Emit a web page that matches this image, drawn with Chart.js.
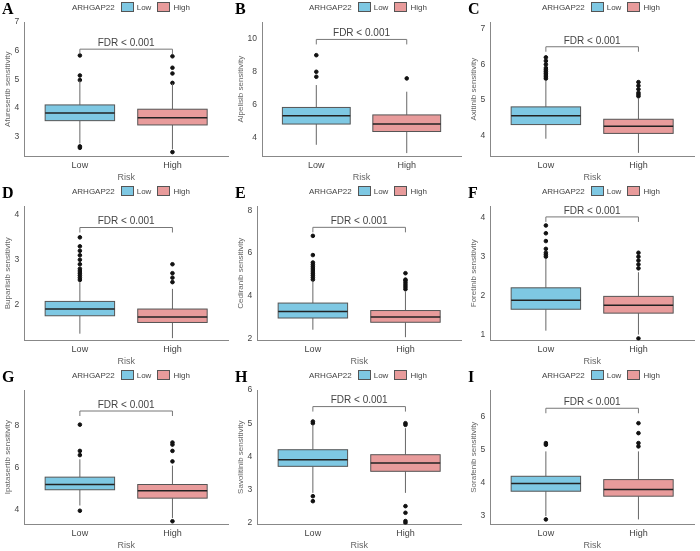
<!DOCTYPE html><html><head><meta charset="utf-8">
<script src="https://cdn.jsdelivr.net/npm/chart.js@4"></script>
<style>
body{margin:0;background:#fff;font-family:"Liberation Sans",Arial,sans-serif}
#wrap{position:relative;width:700px;height:551px}
.p{position:absolute;width:233px;height:183px}
.p canvas{position:absolute;left:0;top:0}
.lt{position:absolute;left:2px;top:0;font:bold 16px "Liberation Serif",serif}
.lg{position:absolute;top:2px;font-size:8px;color:#444;display:flex;align-items:center;gap:3px}
.sw{display:inline-block;width:11px;height:8px;border:1px solid #555;margin-left:3px}
</style></head><body><div id="wrap"></div>
<script>
const letters=["A","B","C","D","E","F","G","H","I"];
const drugs=["Afuresertib","Alpelisib","Axitinib","Buparlisib","Cediranib","Foretinib","Ipatasertib","Savolitinib","Sorafenib"];
const categories=["Low","High"];
// [whiskerLow, q1, median, q3, whiskerHigh]
const lowStats=[[2.75,3.55,3.82,4.1,4.95],[3.6,4.85,5.35,5.85,7.2],[3.9,4.3,4.55,4.8,5.55],[1.35,1.75,1.9,2.07,2.5],[2.4,2.95,3.25,3.65,4.7],[1.1,1.65,1.88,2.2,2.95],[4.2,4.95,5.2,5.55,6.4],[2.9,3.7,3.9,4.2,4.95],[3.0,3.75,3.98,4.2,4.95]];
const highStats=[[2.55,3.4,3.65,3.95,4.85],[3.1,4.4,4.85,5.4,6.8],[3.5,4.05,4.25,4.45,5.05],[1.25,1.6,1.72,1.9,2.35],[2.05,2.75,3.0,3.3,4.2],[1.0,1.55,1.75,1.98,2.6],[3.6,4.55,4.9,5.2,6.1],[2.9,3.55,3.8,4.05,4.85],[2.9,3.6,3.8,4.1,4.95]];
const lowOut=[[5.13,5.83,2.6,2.65,4.97],[7.7,8.0,9.0],[5.6,5.65,5.7,5.75,5.8,5.85,5.9,6.0,6.1,6.2],[2.55,2.6,2.65,2.7,2.75,2.8,2.9,3.0,3.1,3.2,3.3,3.5],[4.75,4.85,4.95,5.05,5.15,5.25,5.35,5.45,5.55,5.9,6.8],[3.0,3.05,3.1,3.2,3.4,3.6,3.8],[6.6,6.8,8.05,3.95],[5.0,5.05,2.8,2.65],[5.15,5.2,2.9]];
const highOut=[[4.87,5.2,5.4,5.8,2.45],[7.6],[5.1,5.15,5.2,5.3,5.4,5.5],[2.5,2.6,2.7,2.9],[4.3,4.4,4.5,4.6,4.7,4.75,5.05],[2.7,2.8,2.9,3.0,3.1,0.9],[6.3,6.8,7.1,7.2,3.45],[4.95,5.0,2.5,2.3,2.05,2.0],[5.1,5.2,5.5,5.8]];
const yMin=[2.3,2.9,3.4,1.2,1.9,0.85,3.3,1.95,2.75];
const yMax=[7,11,7.2,4.2,8.2,4.3,9.7,6,6.8];
const yStep=[1,2,1,1,2,1,2,1,1];
const bracketY=[6.05,9.95,6.5,3.72,7.2,4.02,8.7,5.5,6.25];
const colors=["#7ec8e3","#e89b9b"];
const wrap=document.getElementById("wrap");
const boxPlugin={id:"box",afterDatasetsDraw(c){
  const i=c.options.plugins.box.idx, ctx=c.ctx, x=c.scales.x, y=c.scales.y;
  [lowStats[i],highStats[i]].forEach((s,k)=>{
    const cx=x.getPixelForValue(k+1), hw=(x.getPixelForValue(1.375)-x.getPixelForValue(1));
    ctx.save();ctx.strokeStyle="#666";ctx.lineWidth=1;
    ctx.beginPath();ctx.moveTo(cx,y.getPixelForValue(s[0]));ctx.lineTo(cx,y.getPixelForValue(s[1]));
    ctx.moveTo(cx,y.getPixelForValue(s[3]));ctx.lineTo(cx,y.getPixelForValue(s[4]));ctx.stroke();
    const t=y.getPixelForValue(s[3]),b=y.getPixelForValue(s[1]);
    ctx.fillStyle=colors[k];ctx.fillRect(cx-hw,t,2*hw,b-t);
    ctx.strokeStyle="#555";ctx.strokeRect(cx-hw,t,2*hw,b-t);
    ctx.strokeStyle="#222";ctx.lineWidth=1.5;ctx.beginPath();
    const m=y.getPixelForValue(s[2]);ctx.moveTo(cx-hw,m);ctx.lineTo(cx+hw,m);ctx.stroke();
    ctx.restore();
  });
  const by=y.getPixelForValue(bracketY[i]),x1=x.getPixelForValue(1),x2=x.getPixelForValue(2);
  ctx.save();ctx.strokeStyle="#777";ctx.lineWidth=1;ctx.beginPath();
  ctx.moveTo(x1,by+5);ctx.lineTo(x1,by);ctx.lineTo(x2,by);ctx.lineTo(x2,by+5);ctx.stroke();
  ctx.fillStyle="#444";ctx.font="10px 'Liberation Sans'";ctx.textAlign="center";ctx.textBaseline="bottom";
  ctx.fillText("FDR < 0.001",(x1+x2)/2,by-1);ctx.restore();
}};
for(let i=0;i<9;i++){
  const col=i%3,row=Math.floor(i/3);
  const d=document.createElement("div");d.className="p";
  d.style.left=(col*233)+"px";d.style.top=(row*184)+"px";
  d.innerHTML='<canvas width="233" height="183"></canvas><div class="lt">'+letters[i]+'</div><div class="lg" style="left:'+(col==0?72:76)+'px">ARHGAP22 <span class="sw" style="background:'+colors[0]+'"></span> Low <span class="sw" style="background:'+colors[1]+'"></span> High</div>';
  wrap.appendChild(d);
  const pts=[];
  lowOut[i].forEach(v=>pts.push({x:1,y:v}));highOut[i].forEach(v=>pts.push({x:2,y:v}));
  new Chart(d.querySelector("canvas"),{type:"scatter",
    data:{datasets:[{data:pts,backgroundColor:"#111",borderColor:"#111",pointRadius:1.8}]},
    options:{responsive:false,animation:false,layout:{padding:{top:22,right:5,left:3}},
      plugins:{legend:{display:false},tooltip:{enabled:false},box:{idx:i}},
      scales:{
        x:{type:"linear",min:0.4,max:2.6,grid:{display:false,drawTicks:true,tickLength:3},border:{color:"#888"},
          afterBuildTicks:a=>{a.ticks=[{value:1},{value:2}]},
          ticks:{callback:v=>categories[v-1],color:"#444",font:{size:9},padding:1},
          title:{display:true,text:"Risk",color:"#666",font:{size:9},padding:0}},
        y:{min:yMin[i],max:yMax[i],grid:{display:false,tickLength:3},border:{color:"#888"},
          afterBuildTicks:a=>{const t=[];for(let v=Math.ceil(yMin[i]/yStep[i])*yStep[i];v<=yMax[i]+1e-9;v+=yStep[i])t.push({value:v});a.ticks=t;},
          ticks:{color:"#444",font:{size:8.5},padding:2},
          title:{display:true,text:drugs[i]+" sensitivity",color:"#666",font:{size:8},padding:0}}
      }},plugins:[boxPlugin]});
}
</script></body></html>
